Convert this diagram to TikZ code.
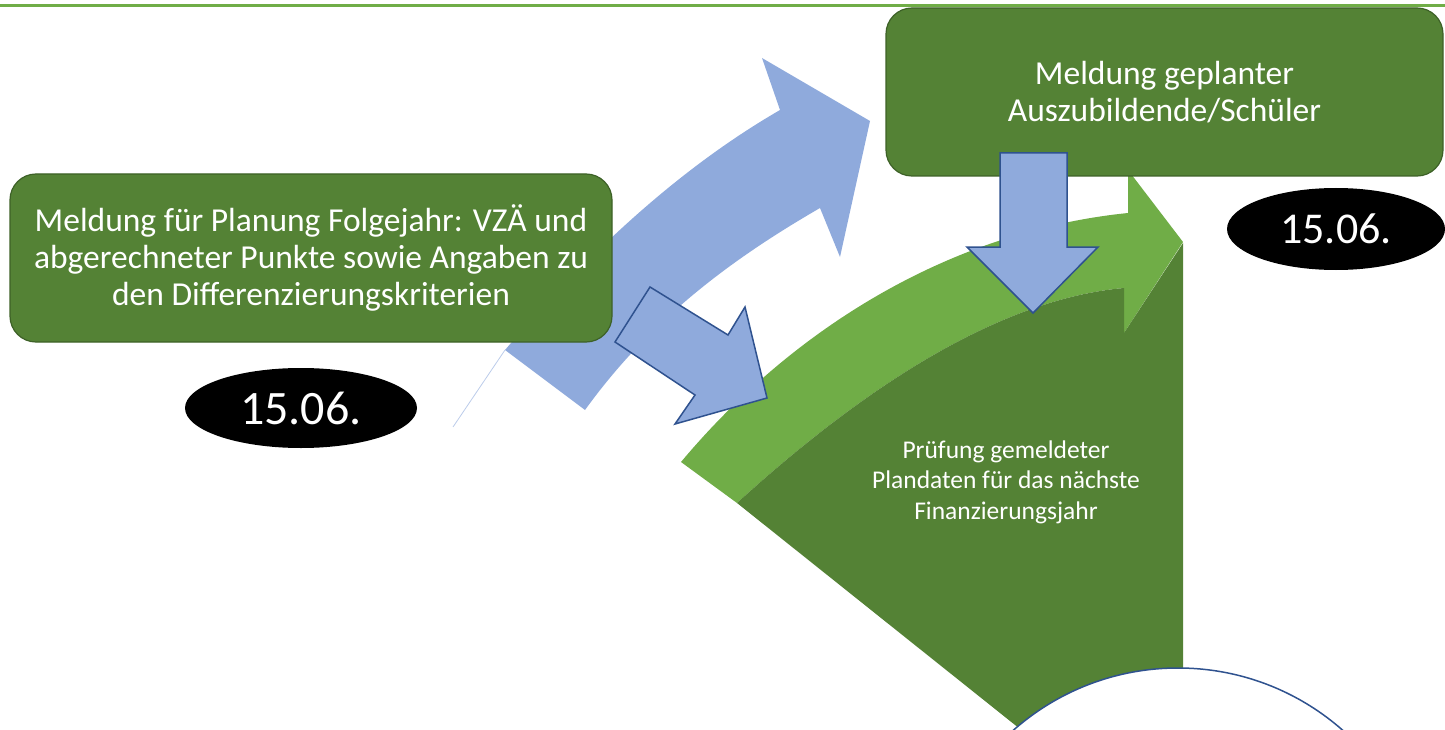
\documentclass[tikz,border=0pt]{standalone}
\usepackage{fontspec}
\setmainfont{Carlito}
\usetikzlibrary{shapes.geometric}
\definecolor{dkgreen}{RGB}{84,130,53}
\definecolor{ltgreen}{RGB}{112,173,71}
\definecolor{lblue}{RGB}{143,170,220}
\definecolor{dblue}{RGB}{47,82,143}
\definecolor{boxline}{RGB}{61,97,39}
\begin{document}
\begin{tikzpicture}[x=1pt,y=-1pt,
  gbox/.style={draw=boxline, line width=1.2pt, fill=dkgreen, rounded corners=26pt, text=white, align=center, inner sep=0pt, font=\fontsize{33.5}{37}\selectfont},
  datebubble/.style={ellipse, fill=black, text=white, inner sep=0pt, font=\fontsize{44}{50}\selectfont},
  blockarrow/.style={fill=lblue, draw=dblue, line width=1.5pt, line join=miter},
  bigarrow/.style={fill=lblue},
  band/.style={fill=ltgreen},
  sector/.style={fill=dkgreen}]
\useasboundingbox (0,0) rectangle (1445,730);
\clip (0,0) rectangle (1445,730);
% top rule
\draw[ltgreen, line width=3pt] (0,5.5) -- (1445,5.5);
% big curved blue arrow
\path[bigarrow] (505,350) .. controls (595,245) and (685,165) .. (780,110) -- (762,58) -- (870,121) -- (840,257) -- (820,208) .. controls (730,260) and (650,320) .. (585,410) -- cycle;
\draw[lblue!60, line width=0.8pt] (505,350) -- (453,427);
% left box
\node[gbox, minimum width=602pt, minimum height=168pt] (plan) at (311,258) {Meldung für Planung Folgejahr: VZÄ und\\abgerechneter Punkte sowie Angaben zu\\den Differenzierungskriterien};
% light green curved arrow
\path[band] (681,462) .. controls (800,320) and (960,230) .. (1128,213) -- (1128,170) -- (1183,242) -- (1124,333) -- (1124,288) .. controls (990,300) and (850,400) .. (737,503) -- cycle;
% dark green sector
\path[sector] (737,503) .. controls (850,400) and (990,300) .. (1124,288) -- (1124,333) -- (1183,243) -- (1183,800) -- (1109,800) -- cycle;
% white circle
\node[circle, fill=white, draw=dblue, line width=1.5pt, minimum size=498pt, inner sep=0pt] (cyc) at (1178,917) {};
% top right box
\node[gbox, minimum width=557pt, minimum height=168pt] (azubi) at (1164.5,92) {Meldung geplanter\\Auszubildende/Schüler};
% block arrows
\draw[blockarrow] (1000,153) -- (1067,153) -- (1067,247) -- (1098,247) -- (1033,313) -- (967,247) -- (1000,247) -- cycle;
\draw[blockarrow] (650,287) -- (728,335) -- (745,307) -- (767,398) -- (675,424) -- (695,395) -- (615,342) -- cycle;
% text in sector
\node[text=white, align=center, font=\fontsize{25.5}{30.5}\selectfont] (pruef) at (1006,482) {Prüfung gemeldeter\\Plandaten für das nächste\\Finanzierungsjahr};
% dates
\node[datebubble, minimum width=232pt, minimum height=80pt, font=\fontsize{48}{52}\selectfont] (d1) at (301,408) {15.06.};
\node[datebubble, minimum width=218pt, minimum height=82pt] (d2) at (1336,229) {15.06.};
\end{tikzpicture}
\end{document}
